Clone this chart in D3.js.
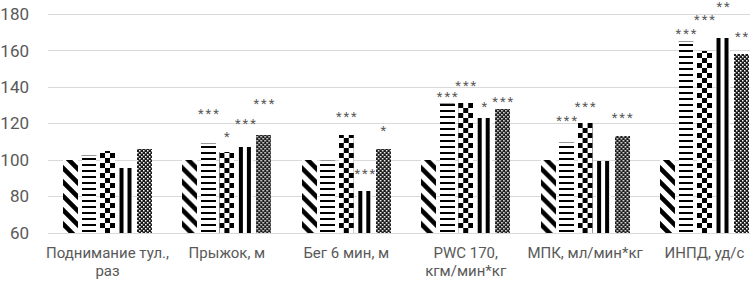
<!DOCTYPE html>
<html><head><meta charset="utf-8">
<script src="https://cdn.jsdelivr.net/npm/d3@7/dist/d3.min.js"></script>
<style>
html,body{margin:0;padding:0;background:#fff;overflow:hidden}
svg{display:block}
text{font-family:Roboto,"Open Sans",sans-serif}
</style></head>
<body>
<svg id="chart" width="750" height="281"></svg>
<script>
// ---- data ----
const categories = ["Поднимание тул.,\nраз", "Прыжок, м", "Бег 6 мин, м", "PWC 170,\nкгм/мин*кг", "МПК, мл/мин*кг", "ИНПД, уд/с"];
const seriesNames = ["s1", "s2", "s3", "s4", "s5"];
const s1 = [100, 100, 100, 100, 100, 100];
const s2 = [102.5, 109, 100, 131, 109.5, 165];
const s3 = [105, 104, 113.5, 131, 120, 159.5];
const s4 = [95.5, 107, 83, 123, 99.5, 167];
const s5 = [106, 113.5, 106, 128, 113, 158];
// significance marks and the level (mean + SD) where each mark sits
const sig1 = ["", "", "", "", "", ""];
const sig2 = ["", "***", "", "***", "***", "***"];
const sig3 = ["", "*", "***", "***", "***", "***"];
const sig4 = ["", "***", "***", "*", "", "**"];
const sig5 = ["", "***", "*", "***", "***", "**"];
const upper1 = [null, null, null, null, null, null];
const upper2 = [null, 126.4, null, 135.7, 122.3, 170.2];
const upper3 = [null, 113.4, 124.3, 141.8, 130.2, 177.8];
const upper4 = [null, 120.9, 93.2, 130.2, null, 185];
const upper5 = [null, 131.5, 117, 133, 124.2, 168.7];
const yTicks = [60, 80, 100, 120, 140, 160, 180];

const values = [s1, s2, s3, s4, s5];
const sigs = [sig1, sig2, sig3, sig4, sig5];
const uppers = [upper1, upper2, upper3, upper4, upper5];

// ---- layout ----
const svg = d3.select("#chart");
const x0 = d3.scaleBand().domain(d3.range(categories.length)).range([47.8, 764.2]).padding(0);
const x1 = d3.scaleBand().domain(seriesNames).range([15.2, 104.2]).paddingInner(0.19).paddingOuter(0);
const y = d3.scaleLinear().domain([60, 180]).range([232.6, 14]);

// grid
svg.append("g").selectAll("line").data(yTicks).join("line")
  .attr("x1", 48).attr("x2", 750)
  .attr("y1", d => Math.round(y(d)) + 0.5).attr("y2", d => Math.round(y(d)) + 0.5)
  .attr("stroke", "#d9d9d9").attr("stroke-width", 1);

// y tick labels
svg.append("g").selectAll("text").data(yTicks).join("text")
  .attr("x", 29).attr("y", d => y(d)).attr("dy", "0.36em")
  .attr("text-anchor", "end").attr("fill", "#595959").attr("font-size", 17)
  .text(d => d);

// bars data
const bars = [];
categories.forEach((c, i) => {
  seriesNames.forEach((s, k) => {
    bars.push({ci: i, si: k, s: s, v: values[k][i], sig: sigs[k][i], up: uppers[k][i]});
  });
});

const defs = svg.append("defs");
bars.forEach(b => {
  const bx = x0(b.ci) + x1(b.s);
  const id = `p${b.ci}_${b.si}`;
  b.id = id;
  let p;
  if (b.si === 0) {
    p = defs.append("pattern").attr("id", id).attr("patternUnits", "userSpaceOnUse")
      .attr("x", bx).attr("y", 0).attr("width", 14).attr("height", 14);
    p.append("rect").attr("width", 14).attr("height", 14).attr("fill", "#fff");
    p.append("path").attr("d", "M-1,-1L15,15M-8,6L8,22M6,-8L22,8")
      .attr("stroke", "#000").attr("stroke-width", 4.6);
  } else if (b.si === 1) {
    p = defs.append("pattern").attr("id", id).attr("patternUnits", "userSpaceOnUse")
      .attr("x", bx).attr("y", 0).attr("width", 16).attr("height", 6);
    p.append("rect").attr("width", 16).attr("height", 6).attr("fill", "#fff");
    p.append("rect").attr("y", 2).attr("width", 16).attr("height", 2).attr("fill", "#000");
  } else if (b.si === 2) {
    p = defs.append("pattern").attr("id", id).attr("patternUnits", "userSpaceOnUse")
      .attr("x", bx).attr("y", 3).attr("width", 10).attr("height", 10);
    p.append("rect").attr("width", 10).attr("height", 10).attr("fill", "#fff");
    p.append("rect").attr("width", 5).attr("height", 5).attr("fill", "#000");
    p.append("rect").attr("x", 5).attr("y", 5).attr("width", 5).attr("height", 5).attr("fill", "#000");
  } else if (b.si === 3) {
    p = defs.append("pattern").attr("id", id).attr("patternUnits", "userSpaceOnUse")
      .attr("x", bx).attr("y", 0).attr("width", 8).attr("height", 10);
    p.append("rect").attr("width", 8).attr("height", 10).attr("fill", "#fff");
    p.append("rect").attr("x", 1).attr("width", 4).attr("height", 10).attr("fill", "#000");
  } else {
    p = defs.append("pattern").attr("id", id).attr("patternUnits", "userSpaceOnUse")
      .attr("x", bx).attr("y", 0).attr("width", 4).attr("height", 4);
    p.append("rect").attr("width", 4).attr("height", 4).attr("fill", "#1a1a1a");
    p.append("rect").attr("width", 1.5).attr("height", 1.5).attr("fill", "#fff");
    p.append("rect").attr("x", 2).attr("y", 2).attr("width", 1.5).attr("height", 1.5).attr("fill", "#fff");
  }
});

svg.append("g").selectAll("rect").data(bars).join("rect")
  .attr("x", d => x0(d.ci) + x1(d.s))
  .attr("width", x1.bandwidth())
  .attr("y", d => y(d.v))
  .attr("height", d => y(60) - y(d.v))
  .attr("fill", d => `url(#${d.id})`)
  .attr("shape-rendering", "crispEdges");

// thin top edge on horizontal-line bars (as in the reference)
svg.append("g").selectAll("line").data(bars.filter(d => d.si === 1)).join("line")
  .attr("x1", d => x0(d.ci) + x1(d.s)).attr("x2", d => x0(d.ci) + x1(d.s) + x1.bandwidth())
  .attr("y1", d => Math.round(y(d.v)) + 0.5).attr("y2", d => Math.round(y(d.v)) + 0.5)
  .attr("stroke", "#999").attr("stroke-width", 1);

// significance labels
svg.append("g").selectAll("text").data(bars.filter(d => d.sig && d.up != null)).join("text")
  .attr("x", d => x0(d.ci) + x1(d.s) + x1.bandwidth() / 2 + 1)
  .attr("y", d => y(d.up) + 6)
  .attr("text-anchor", "middle")
  .attr("fill", "#595959").attr("font-size", 13).attr("letter-spacing", 2)
  .text(d => d.sig);

// category labels
const xl = svg.append("g").selectAll("text").data(categories).join("text")
  .attr("text-anchor", "middle").attr("fill", "#595959").attr("font-size", 15)
  .attr("transform", (d, i) => `translate(${x0(i) + x0.bandwidth() / 2},0)`);
xl.each(function(d) {
  const lines = d.split("\n");
  d3.select(this).selectAll("tspan").data(lines).join("tspan")
    .attr("x", 0).attr("y", (l, j) => 258 + j * 18).text(l => l);
});
</script>
</body></html>
